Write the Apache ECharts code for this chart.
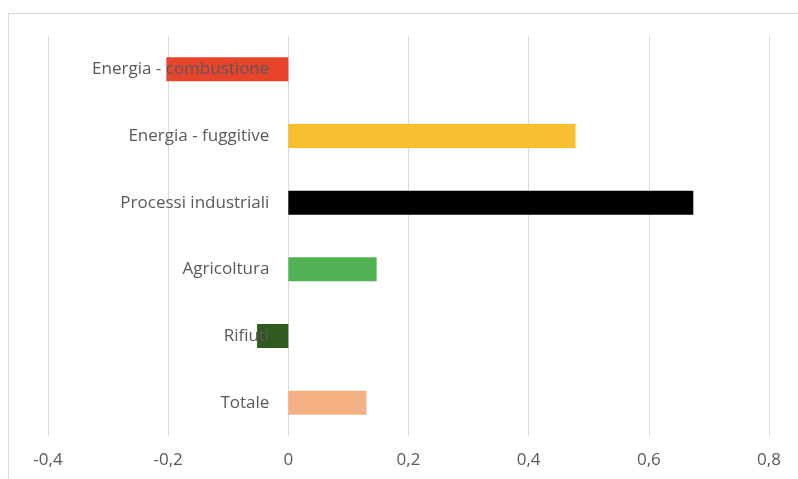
<!DOCTYPE html>
<html>
<head>
<meta charset="utf-8">
<script src="https://cdn.jsdelivr.net/npm/echarts@6/dist/echarts.min.js"></script>
<style>
  html, body { margin: 0; padding: 0; background: #fff; }
  #chart { width: 798px; height: 479px; }
</style>
</head>
<body>
<div id="chart"></div>
<script>
(function () {
  "use strict";

  // ── Data ──
  var categories = [
    "Energia - combustione",
    "Energia - fuggitive",
    "Processi industriali",
    "Agricoltura",
    "Rifiuti",
    "Totale"
  ];
  var values = [-0.203, 0.478, 0.674, 0.147, -0.052, 0.13];

  var BAR_COLORS = ["#e8442c", "#f8bf30", "#000000", "#52b152", "#2e5a1e", "#f4b183"];
  var TEXT = "#595959";
  var FONT = "'Open Sans', sans-serif";
  var GRID_LEFT = 48;

  var chart = echarts.init(document.getElementById("chart"), null, { renderer: "canvas" });

  var data = [];
  for (var i = 0; i < values.length; i++) {
    data.push({ value: values[i], itemStyle: { color: BAR_COLORS[i] } });
  }

  var option = {
    backgroundColor: "#fff",
    animation: false,
    graphic: [
      {
        type: "rect",
        shape: { x: 8.5, y: 13.5, width: 820, height: 500 },
        style: { fill: "none", stroke: "#d9d9d9", lineWidth: 1 },
        silent: true
      }
    ],
    grid: {
      left: GRID_LEFT, right: 29, top: 36, bottom: 43,
      containLabel: false,
      outerBoundsMode: "none"
    },
    xAxis: {
      type: "value",
      min: -0.4,
      max: 0.8,
      interval: 0.2,
      axisLine: { show: false },
      axisTick: { show: false },
      splitLine: { lineStyle: { color: "#d9d9d9", width: 1 } },
      axisLabel: {
        color: TEXT,
        fontFamily: FONT,
        fontSize: 17,
        margin: 16,
        formatter: function (v) {
          var r = Math.round(v * 10) / 10;
          return r === 0 ? "0" : String(r).replace(".", ",");
        }
      }
    },
    yAxis: {
      type: "category",
      data: categories,
      inverse: true,
      z: 10,
      axisLine: { show: false },
      axisTick: { show: false },
      axisLabel: {
        color: TEXT,
        fontFamily: FONT,
        fontSize: 17,
        margin: 19
      }
    },
    series: [
      {
        type: "bar",
        data: data,
        barWidth: 24,
        z: 2
      }
    ]
  };

  chart.setOption(option);

  // category labels sit next to the zero line, like the source chart
  var zeroX = chart.convertToPixel({ xAxisIndex: 0 }, 0);
  chart.setOption({ yAxis: { offset: GRID_LEFT - zeroX } });
})();
</script>
</body>
</html>
